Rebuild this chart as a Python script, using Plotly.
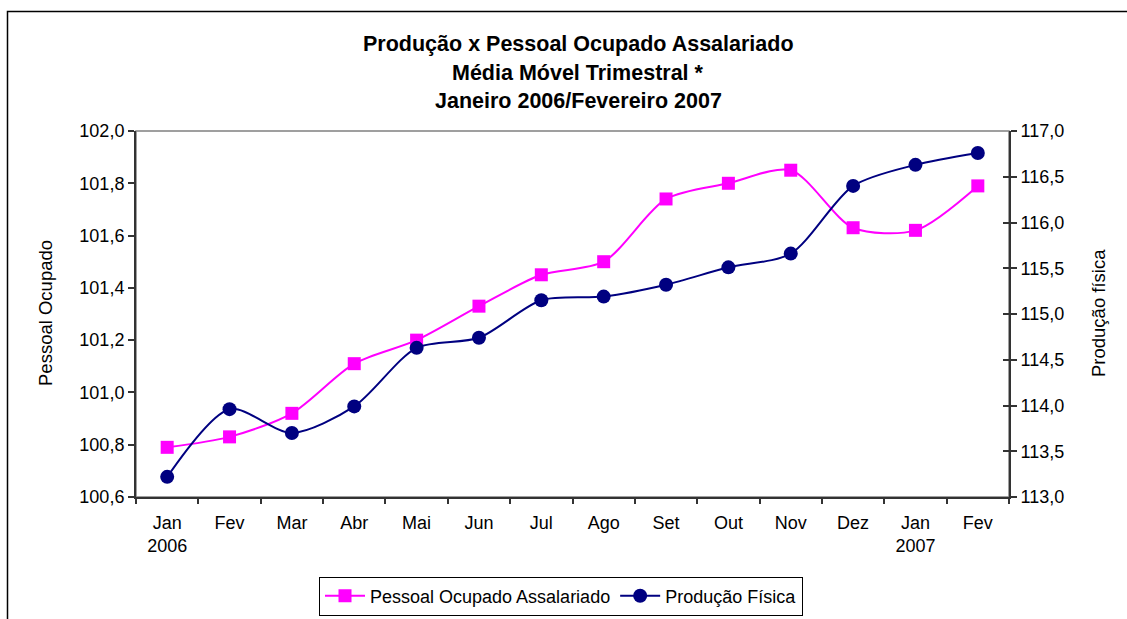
import plotly.graph_objects as go

months = ["Jan<br>2006", "Fev", "Mar", "Abr", "Mai", "Jun", "Jul", "Ago", "Set", "Out", "Nov", "Dez", "Jan<br>2007", "Fev"]
pessoal = [100.79, 100.83, 100.92, 101.11, 101.20, 101.33, 101.45, 101.50, 101.74, 101.80, 101.85, 101.63, 101.62, 101.79]
producao = [113.22, 113.96, 113.70, 113.99, 114.63, 114.74, 115.15, 115.19, 115.32, 115.51, 115.66, 116.40, 116.63, 116.76]
title_lines = ["Produção x Pessoal Ocupado Assalariado", "Média Móvel Trimestral *", "Janeiro 2006/Fevereiro 2007"]

x = list(range(len(months)))
FONT = "Liberation Sans, Arial, sans-serif"

fig = go.Figure()
fig.add_trace(go.Scatter(
    x=x, y=pessoal, name="Pessoal Ocupado Assalariado", mode="lines+markers",
    line=dict(color="#FF00FF", width=2, shape="spline", smoothing=0.8),
    marker=dict(symbol="square", size=13, color="#FF00FF"), yaxis="y"))
fig.add_trace(go.Scatter(
    x=x, y=producao, name="Produção Física", mode="lines+markers",
    line=dict(color="#000080", width=2, shape="spline", smoothing=0.8),
    marker=dict(symbol="circle", size=14, color="#000080"), yaxis="y2"))

L, R, T, B = 136, 118, 131, 122
W, H = 1127, 619
pw, ph = W - L - R, H - T - B

def px(xp):
    return (xp - L) / pw

def py(yp):
    return (H - B - yp) / ph

annotations = []
for t, yy in zip(title_lines, [44, 72.5, 101]):
    annotations.append(dict(text="<b>%s</b>" % t, x=px(578), y=py(yy), xref="paper", yref="paper",
                            showarrow=False, xanchor="center", yanchor="middle",
                            font=dict(family=FONT, size=21.5, color="black")))
annotations.append(dict(text="Pessoal Ocupado", x=px(45), y=py(313), xref="paper", yref="paper",
                        showarrow=False, textangle=-90, xanchor="center", yanchor="middle",
                        font=dict(family=FONT, size=18.5, color="black")))
annotations.append(dict(text="Produção física", x=px(1098), y=py(313), xref="paper", yref="paper",
                        showarrow=False, textangle=-90, xanchor="center", yanchor="middle",
                        font=dict(family=FONT, size=18.5, color="black")))

shapes = [
    dict(type="rect", xref="paper", yref="paper", x0=px(7.5), x1=px(1135), y0=py(640), y1=py(11.5),
         line=dict(color="black", width=1.5), layer="below"),
    dict(type="rect", xref="paper", yref="paper", x0=0, x1=1, y0=0, y1=1,
         line=dict(color="#808080", width=1.5), layer="below"),
]

fig.update_layout(
    width=W, height=H,
    margin=dict(l=L, r=R, t=T, b=B, autoexpand=False),
    paper_bgcolor="white", plot_bgcolor="white",
    separators=",.",
    font=dict(family=FONT, size=18, color="black"),
    showlegend=True,
    legend=dict(orientation="h", x=px(561), y=py(596), xanchor="center", yanchor="middle",
                bordercolor="black", borderwidth=1, bgcolor="white",
                font=dict(family=FONT, size=18, color="black"), itemwidth=40,
                tracegroupgap=0),
    xaxis=dict(type="linear", range=[-0.5, 13.5], tickvals=x, ticktext=months, automargin=False,
               showgrid=False, zeroline=False, showline=True, linecolor="#333333", linewidth=2,
               ticks="outside", ticklen=8, tickcolor="rgba(0,0,0,0)", tickfont=dict(size=18)),
    xaxis2=dict(overlaying="x", range=[-0.5, 13.5], tickvals=[i + 0.5 for i in range(-1, 14)], automargin=False,
                showticklabels=False, ticks="outside", ticklen=6, tickcolor="#333333", tickwidth=1.5,
                showgrid=False, zeroline=False, side="bottom", anchor="y"),
    yaxis=dict(range=[100.6, 102.0], dtick=0.2, tickformat=".1f", automargin=False,
               showgrid=False, zeroline=False, showline=True, linecolor="#333333", linewidth=2,
               ticks="outside", ticklen=6, tickcolor="#333333", tickwidth=1.5),
    yaxis2=dict(range=[113.0, 117.0], dtick=0.5, tickformat=".1f", overlaying="y", side="right", automargin=False,
                showgrid=False, zeroline=False, showline=True, linecolor="#333333", linewidth=2,
                ticks="outside", ticklen=6, tickcolor="#333333", tickwidth=1.5),
    yaxis3=dict(range=[113.0, 117.0], dtick=0.5, overlaying="y", side="right", anchor="x", automargin=False,
                showticklabels=False, showgrid=False, zeroline=False, showline=False,
                ticks="inside", ticklen=6, tickcolor="#333333", tickwidth=1.5),
    annotations=annotations,
    shapes=shapes,
)
# dummy traces to activate the tick-only axes
fig.add_trace(go.Scatter(x=[0], y=[None], xaxis="x2", yaxis="y", showlegend=False, hoverinfo="skip"))
fig.add_trace(go.Scatter(x=[0], y=[None], xaxis="x", yaxis="y3", showlegend=False, hoverinfo="skip"))

fig.write_html("out.html", config={"displayModeBar": False},
               post_script="document.body.style.margin='0';")
